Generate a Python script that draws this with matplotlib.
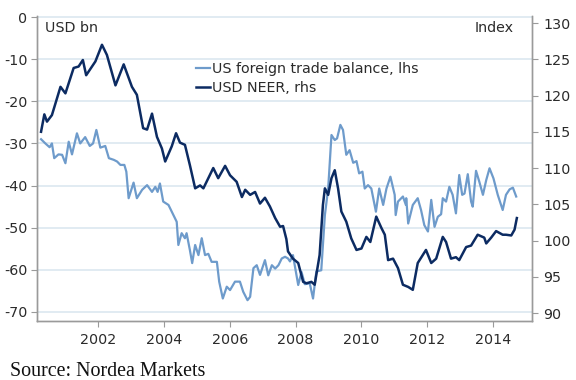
import matplotlib
matplotlib.use("Agg")
import matplotlib.pyplot as plt
from matplotlib.lines import Line2D

# DATA (decimal years)
trade_years = [
    2000.27, 2000.40, 2000.53, 2000.60, 2000.67, 2000.80, 2000.91, 2001.01, 2001.11, 2001.21,
    2001.36, 2001.46, 2001.61, 2001.75, 2001.85, 2001.95, 2002.07, 2002.22, 2002.33, 2002.48,
    2002.58, 2002.68, 2002.80, 2002.86, 2002.93, 2003.08, 2003.18, 2003.34, 2003.49, 2003.64,
    2003.74, 2003.81, 2003.88, 2003.98, 2004.14, 2004.29, 2004.39, 2004.44, 2004.54, 2004.64,
    2004.69, 2004.79, 2004.86, 2004.95, 2005.05, 2005.15, 2005.25, 2005.35, 2005.45, 2005.61,
    2005.68, 2005.79, 2005.91, 2006.01, 2006.16, 2006.31, 2006.41, 2006.54, 2006.62, 2006.72,
    2006.82, 2006.92, 2007.07, 2007.17, 2007.28, 2007.38, 2007.48, 2007.58, 2007.68, 2007.77,
    2007.83, 2007.92, 2008.08, 2008.18, 2008.28, 2008.43, 2008.53, 2008.63, 2008.78, 2008.89,
    2008.99, 2009.09, 2009.19, 2009.26, 2009.36, 2009.44, 2009.54, 2009.64, 2009.75, 2009.85,
    2009.93, 2010.03, 2010.10, 2010.20, 2010.30, 2010.44, 2010.54, 2010.66, 2010.76, 2010.88,
    2011.01, 2011.04, 2011.11, 2011.26, 2011.35, 2011.36, 2011.42, 2011.56, 2011.71, 2011.81,
    2011.91, 2012.02, 2012.12, 2012.22, 2012.32, 2012.42, 2012.47, 2012.57, 2012.67, 2012.77,
    2012.87, 2012.97, 2013.06, 2013.13, 2013.23, 2013.33, 2013.38, 2013.48, 2013.58, 2013.69,
    2013.79, 2013.89, 2014.01, 2014.14, 2014.29, 2014.39, 2014.50, 2014.60, 2014.70,
]
trade_balance = [
    -29.0, -30.0, -30.9, -30.0, -33.5, -32.6, -32.7, -34.7, -29.6, -32.6,
    -27.6, -30.0, -28.5, -30.6, -30.0, -26.8, -31.0, -30.6, -33.5, -33.9,
    -34.3, -35.1, -35.1, -36.7, -43.0, -39.3, -43.0, -41.0, -39.9, -41.5,
    -40.3, -41.5, -39.5, -43.8, -44.6, -47.0, -48.6, -54.1, -51.3, -52.5,
    -51.3, -55.3, -58.4, -54.1, -56.5, -52.5, -56.5, -56.2, -58.1, -58.1,
    -62.8, -66.8, -64.0, -64.8, -62.8, -62.8, -65.2, -67.2, -66.4, -59.6,
    -58.9, -61.2, -57.7, -61.3, -58.9, -59.7, -58.9, -57.3, -56.9, -57.3,
    -58.0, -56.5, -63.6, -60.5, -63.4, -63.2, -66.8, -60.4, -60.1, -47.0,
    -40.7, -28.0, -29.2, -28.8, -25.6, -26.8, -32.7, -31.6, -34.6, -34.2,
    -37.1, -36.7, -40.7, -39.9, -40.7, -46.2, -40.7, -44.6, -40.7, -37.9,
    -42.2, -47.0, -43.8, -42.6, -44.6, -43.0, -49.0, -44.6, -43.0, -45.8,
    -49.4, -50.9, -43.4, -49.8, -47.4, -46.8, -43.0, -43.8, -40.3, -42.2,
    -46.6, -37.5, -42.2, -41.9, -37.3, -43.8, -45.0, -36.5, -39.1, -42.2,
    -38.7, -35.9, -38.3, -42.2, -45.8, -42.2, -40.9, -40.5, -42.6,
]

neer_years = [
    2000.27, 2000.37, 2000.45, 2000.60, 2000.86, 2001.01, 2001.26, 2001.41, 2001.54, 2001.64,
    2001.92, 2002.12, 2002.27, 2002.53, 2002.78, 2003.03, 2003.18, 2003.37, 2003.49, 2003.64,
    2003.79, 2003.94, 2004.04, 2004.24, 2004.37, 2004.49, 2004.64, 2004.79, 2004.95, 2005.10,
    2005.20, 2005.35, 2005.50, 2005.65, 2005.86, 2006.01, 2006.21, 2006.37, 2006.47, 2006.62,
    2006.77, 2006.92, 2007.07, 2007.22, 2007.38, 2007.53, 2007.62, 2007.72, 2007.77, 2007.92,
    2008.08, 2008.23, 2008.33, 2008.48, 2008.58, 2008.73, 2008.83, 2008.89, 2008.99, 2009.09,
    2009.19, 2009.29, 2009.39, 2009.54, 2009.69, 2009.85, 2010.00, 2010.15, 2010.27, 2010.45,
    2010.61, 2010.71, 2010.81, 2010.96, 2011.11, 2011.26, 2011.42, 2011.56, 2011.71, 2011.96,
    2012.12, 2012.27, 2012.47, 2012.57, 2012.72, 2012.87, 2012.97, 2013.18, 2013.33, 2013.53,
    2013.73, 2013.79, 2013.94, 2014.09, 2014.29, 2014.39, 2014.55, 2014.65, 2014.72,
]
neer = [
    115.0, 117.4, 116.4, 117.3, 121.2, 120.3, 123.8, 124.0, 124.9, 122.8,
    124.7, 127.0, 125.6, 121.4, 124.3, 121.2, 120.1, 115.5, 115.3, 117.5,
    114.3, 112.7, 110.9, 113.0, 114.8, 113.5, 113.2, 110.4, 107.2, 107.6,
    107.2, 108.6, 110.0, 108.6, 110.3, 109.0, 108.1, 106.0, 107.0, 106.3,
    106.7, 105.1, 105.9, 104.7, 103.1, 101.9, 102.0, 100.2, 98.5, 97.5,
    96.9, 94.3, 94.1, 94.3, 93.9, 98.0, 104.9, 107.2, 106.3, 108.6,
    109.7, 107.2, 104.0, 102.6, 100.3, 98.7, 98.9, 100.5, 99.8, 103.3,
    101.7, 100.8, 97.3, 97.5, 96.2, 93.9, 93.6, 93.2, 96.9, 98.7,
    96.9, 97.5, 100.5, 99.8, 97.5, 97.7, 97.3, 99.1, 99.3, 100.8,
    100.4, 99.6, 100.4, 101.3, 100.8, 100.8, 100.7, 101.5, 103.1,
]

left_ticks = [0, -10, -20, -30, -40, -50, -60, -70]
right_ticks = [130, 125, 120, 115, 110, 105, 100, 95, 90]
year_ticks = [2002, 2004, 2006, 2008, 2010, 2012, 2014]

light_blue = "#6e9bcb"
navy = "#0c2b62"
grid_col = "#d9e5ef"
spine_col = "#9a9a9a"
text_col = "#2b2b2b"
fs = 10.3

plt.rcParams["font.family"] = ["DejaVu Sans"]

fig = plt.figure(figsize=(5.76, 3.80), dpi=100)
ax = fig.add_axes([37 / 576, 59 / 380, 495 / 576, 305 / 380])
ax2 = ax.twinx()

ax.plot(trade_years, trade_balance, color=light_blue, lw=1.6, solid_joinstyle="round")
ax2.plot(neer_years, neer, color=navy, lw=1.8, solid_joinstyle="round")

ax.set_xlim(2000.147, 2015.18)
ax.set_ylim(-72.14, 0.24)
ax2.set_ylim(88.9, 130.97)

ax.set_yticks(left_ticks)
ax.set_yticklabels([str(t) for t in left_ticks])
ax2.set_yticks(right_ticks)
ax2.set_yticklabels([str(t) for t in right_ticks])
ax.set_xticks(year_ticks)
ax.set_xticklabels([str(t) for t in year_ticks])

ax.grid(axis="y", color=grid_col, lw=1.1)
ax.set_axisbelow(True)

for a in (ax, ax2):
    a.spines["top"].set_visible(False)
    for s in ("left", "right", "bottom"):
        a.spines[s].set_color(spine_col)
        a.spines[s].set_linewidth(1.0)
    a.tick_params(colors=spine_col, labelcolor=text_col, labelsize=fs,
                  length=4, width=0.8, direction="out")
ax.tick_params(axis="y", pad=3)
ax.tick_params(axis="x", pad=5)
ax2.tick_params(axis="y", pad=4)

fig.text(45 / 576, 1 - 27.5 / 380, "USD bn", fontsize=fs, color=text_col, va="center", ha="left")
fig.text(514 / 576, 1 - 27.5 / 380, "Index", fontsize=fs, color=text_col, va="center", ha="right")

handles = [Line2D([], [], color=light_blue, lw=1.6), Line2D([], [], color=navy, lw=1.8)]
labels = ["US foreign trade balance, lhs", "USD NEER, rhs"]
leg = ax2.legend(handles, labels, loc="upper left", bbox_to_anchor=(196 / 576, 1 - 62 / 380),
                 bbox_transform=fig.transFigure, frameon=False, fontsize=fs,
                 handlelength=1.0, handletextpad=0.15, labelspacing=0.35, borderpad=0,
                 borderaxespad=0)
for t in leg.get_texts():
    t.set_color(text_col)

fig.text(10 / 576, 1 - 371 / 380, "Source: Nordea Markets", fontsize=14.4,
         family="Liberation Serif", color="#111111", va="center", ha="left")

fig.savefig("out.png", dpi=100, facecolor="white")
